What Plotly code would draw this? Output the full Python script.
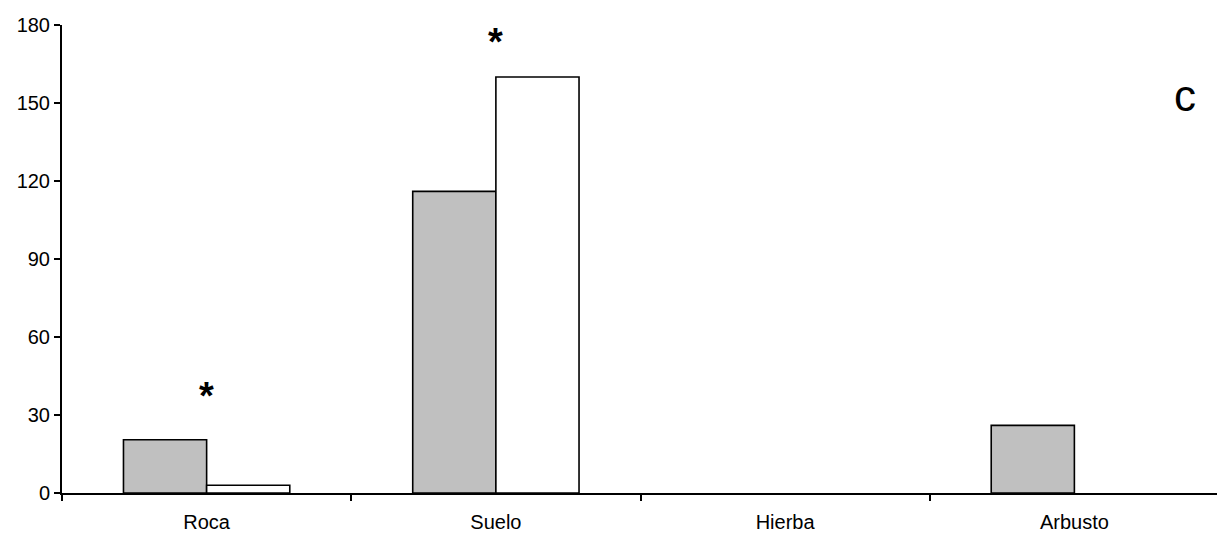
import plotly.graph_objects as go

categories = ["Roca", "Suelo", "Hierba", "Arbusto"]
series_gray = [20.5, 116, 0, 26]
series_white = [3, 160, 0, 0]
star_categories = ["Roca", "Suelo"]
star_values = [37.5, 173.5]
y_ticks = [0, 30, 60, 90, 120, 150, 180]
panel_label = "c"


def outline_widths(vals):
    return [0 if v == 0 else 1.6 for v in vals]


fig = go.Figure()
fig.add_trace(go.Bar(x=categories, y=series_gray,
                     marker=dict(color="#c0c0c0", line=dict(color="black", width=outline_widths(series_gray))),
                     showlegend=False))
fig.add_trace(go.Bar(x=categories, y=series_white,
                     marker=dict(color="white", line=dict(color="black", width=outline_widths(series_white))),
                     showlegend=False))

for c, v in zip(star_categories, star_values):
    fig.add_annotation(x=c, y=v, text="<b>*</b>", showarrow=False, xref="x", yref="y",
                       font=dict(size=38, color="black", family="Liberation Sans, Arial"), yanchor="middle")

fig.add_annotation(x=0.982, y=0.905, xref="paper", yref="paper", text=panel_label, showarrow=False,
                   font=dict(size=44, color="black", family="Liberation Sans, Arial"))

fig.update_layout(
    width=1217, height=531,
    margin=dict(l=54, r=6, t=12, b=46),
    paper_bgcolor="white", plot_bgcolor="white",
    barmode="group", bargap=0.425, bargroupgap=0,
    font=dict(family="Liberation Sans, Arial", size=20, color="black"),
)
fig.update_xaxes(showline=True, linecolor="black", linewidth=2, ticks="outside", tickson="boundaries",
                 ticklen=6, tickwidth=1.5, tickcolor="black", showgrid=False, ticklabelstandoff=10,
                 tickfont=dict(size=20))
fig.update_yaxes(range=[0, 180], tickvals=y_ticks, showline=True, linecolor="black", linewidth=2,
                 ticks="outside", ticklen=6, tickwidth=1.5, tickcolor="black", showgrid=False,
                 zeroline=False, ticklabelstandoff=0, tickfont=dict(size=20))

fig.write_html("out.html")
